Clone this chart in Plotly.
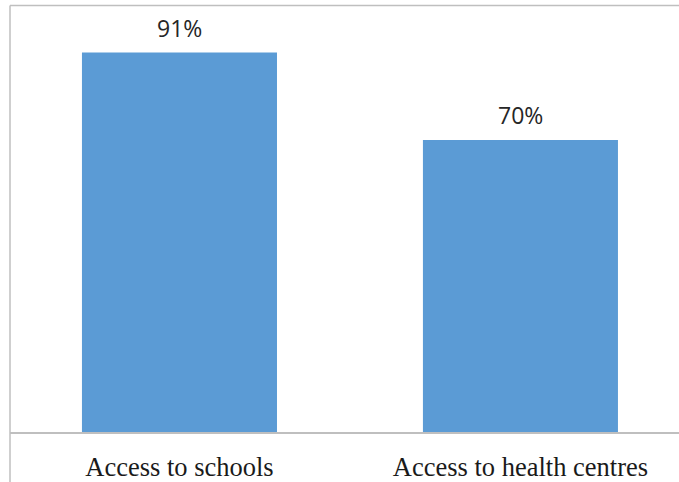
import plotly.graph_objects as go

categories = ["Access to schools", "Access to health centres"]
values = [91, 70]
labels = ["91%", "70%"]

W, H = 679, 482
top, bottom_px = 15, 434
mt = top
mb = H - bottom_px
ml = 10
mr = 0
ph = bottom_px - top

fig = go.Figure()
fig.add_trace(go.Bar(x=categories, y=values, marker=dict(color="#5B9BD5", line=dict(width=0)),
                     width=0.572, hoverinfo="skip"))

for c, v, t in zip(categories, values, labels):
    fig.add_annotation(x=c, y=v, text=t, showarrow=False, yanchor="bottom", yshift=7,
                       font=dict(family="Open Sans, Liberation Sans, sans-serif", size=23, color="#262626"))

# chart border (left & top)
fig.add_shape(type="line", xref="paper", yref="paper", x0=0, x1=0,
              y0=-(H - bottom_px + 5) / ph, y1=1 + 9.5 / ph, line=dict(color="#BFBFBF", width=1.5))
fig.add_shape(type="line", xref="paper", yref="paper", x0=0, x1=1.02,
              y0=1 + 9.5 / ph, y1=1 + 9.5 / ph, line=dict(color="#BFBFBF", width=1.5))

fig.update_layout(
    width=W, height=H,
    margin=dict(l=ml, r=mr, t=mt, b=mb, pad=0),
    plot_bgcolor="white", paper_bgcolor="white",
    showlegend=False,
    xaxis=dict(range=[-0.497, 1.465], showline=True, linecolor="#BFBFBF", linewidth=2,
               ticks="outside", ticklen=10, tickcolor="rgba(0,0,0,0)",
               tickfont=dict(family="Liberation Serif, Times New Roman, serif", size=26.5, color="#1a1a1a"),
               showgrid=False, zeroline=False),
    yaxis=dict(range=[0, 100], visible=False, showgrid=False, zeroline=False),
)

fig.write_html("out.html")
